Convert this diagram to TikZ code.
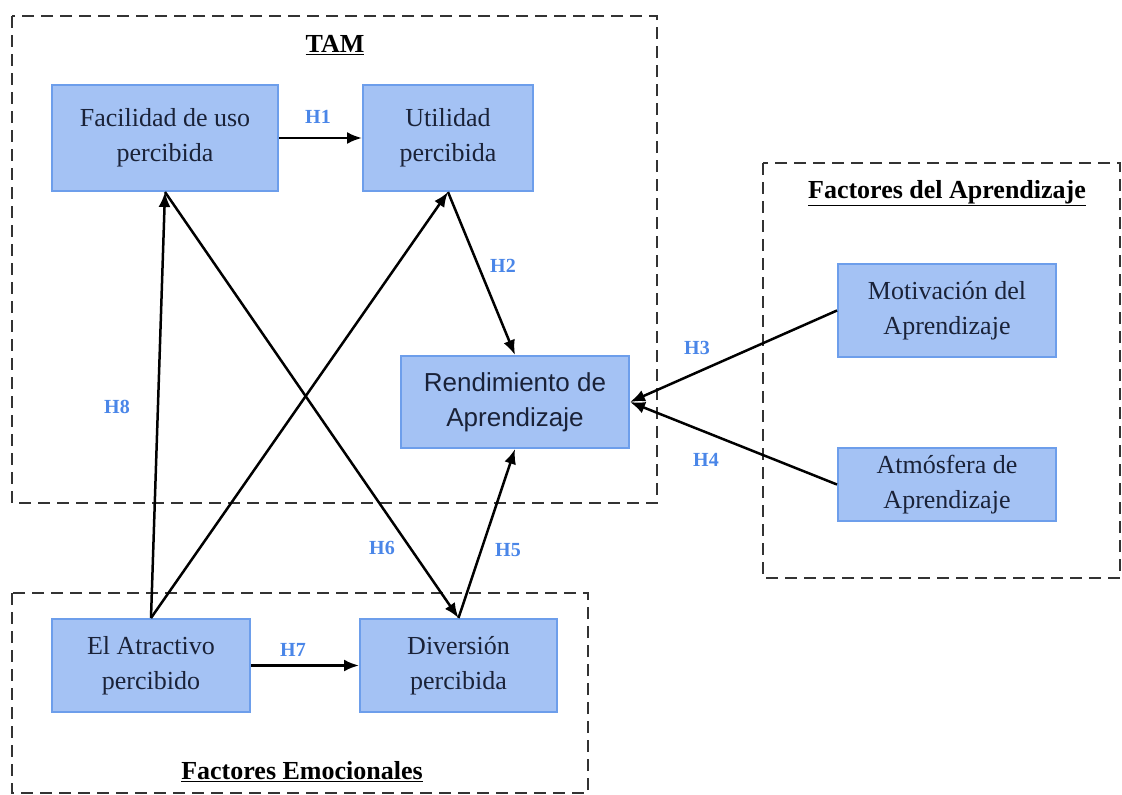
\documentclass[tikz,border=0pt]{standalone}
\usepackage{fontspec}
\setmainfont{Liberation Serif}
\newfontfamily\arialfont{Liberation Sans}
\usepackage{xcolor}
\usetikzlibrary{shapes,arrows,arrows.meta}

\definecolor{boxfill}{HTML}{A4C2F4}
\definecolor{boxline}{HTML}{6D9EEB}
\definecolor{boxtext}{HTML}{1A2238}
\definecolor{hlabel}{HTML}{4A86E8}

\tikzset{
  factor/.style={draw=boxline, line width=2pt, fill=boxfill, text=boxtext,
    align=center, inner sep=0pt, font=\fontsize{26}{35}\selectfont},
  group/.style={draw=black!80, line width=2.5pt, dash pattern=on 12pt off 7pt},
  grouptitle/.style={font=\bfseries\fontsize{26}{30}\selectfont},
  hyp/.style={text=hlabel, font=\bfseries\fontsize{20}{22}\selectfont},
  link/.style={-{Latex[length=15pt,width=12pt]}, line width=2.5pt}
}

\begin{document}
\begin{tikzpicture}[x=1pt,y=-1pt]
	\useasboundingbox (0,0) rectangle (1122,795);
	% dashed groups
	\draw[group] (12,16) rectangle (657,503);
	\draw[group] (763,163) rectangle (1120,578);
	\draw[group] (12,593) rectangle (588,793);
	\node[grouptitle] (tam) at (335,45) {\underline{TAM}};
	\node[grouptitle] (aprend) at (947,193) {\underline{Factores del Aprendizaje}};
	\node[grouptitle] (emoc) at (302,772) {\underline{Factores Emocionales}};
	% factors
	\node[factor, minimum width=226, minimum height=106] (fac) at (165,138) {Facilidad de uso\\percibida};
	\node[factor, minimum width=170, minimum height=106] (util) at (448,138) {Utilidad\\percibida};
	\node[factor, minimum width=228, minimum height=92, font=\arialfont\fontsize{26}{35}\selectfont] (rend) at (515,402) {Rendimiento de\\Aprendizaje};
	\node[factor, minimum width=218, minimum height=93] (mot) at (947,310.5) {Motivación del\\Aprendizaje};
	\node[factor, minimum width=218, minimum height=73] (atm) at (947,484.5) {Atmósfera de\\Aprendizaje};
	\node[factor, minimum width=198, minimum height=93] (atr) at (151,665.5) {El Atractivo\\percibido};
	\node[factor, minimum width=197, minimum height=93] (div) at (458.5,665.5) {Diversión\\percibida};
	% hypotheses
	\draw[link] (fac) -- (util);
	\draw[link] (util.south) -- (rend.north);
	\draw[link] (mot.west) -- (rend.east);
	\draw[link] (atm.west) -- (rend.east);
	\draw[link] (div.north) -- (rend.south);
	\draw[link] (fac.south) -- (div.north);
	\draw[link] (atr) -- (div);
	\draw[link] (atr.north) -- (fac.south);
	\draw[link] (atr.north) -- (util.south);
	\node[hyp] (h1) at (318,117) {H1};
	\node[hyp] (h2) at (503,266) {H2};
	\node[hyp] (h3) at (697,348) {H3};
	\node[hyp] (h4) at (706,460) {H4};
	\node[hyp] (h5) at (508,550) {H5};
	\node[hyp] (h6) at (382,548) {H6};
	\node[hyp] (h7) at (293,650) {H7};
	\node[hyp] (h8) at (117,407) {H8};
\end{tikzpicture}
\end{document}
